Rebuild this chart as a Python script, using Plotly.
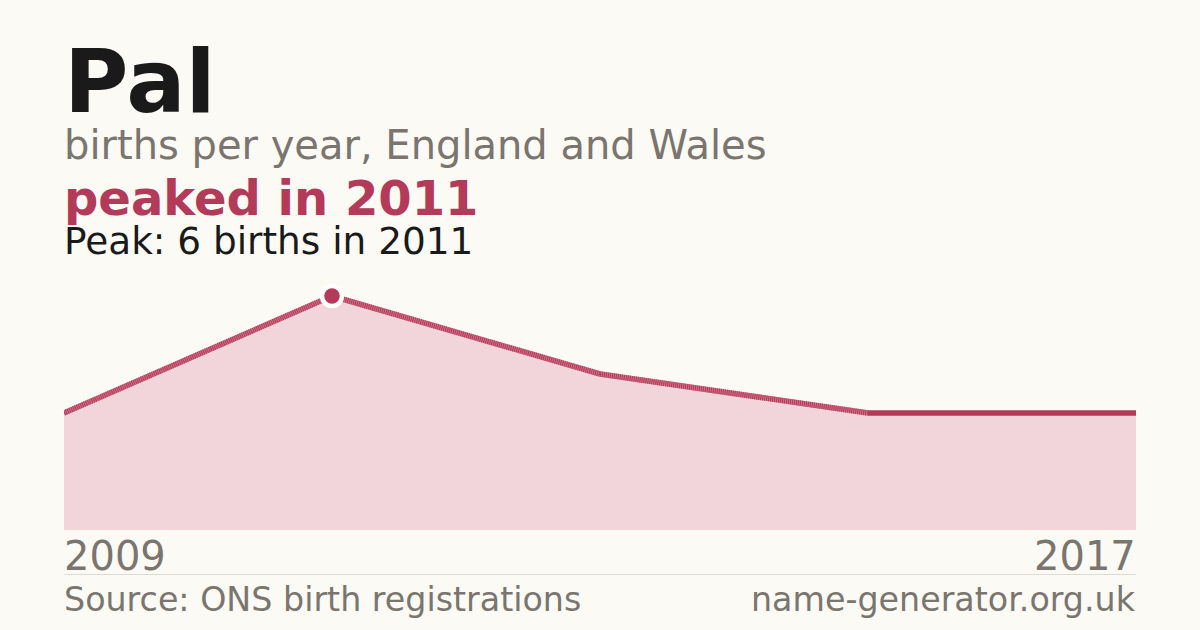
import plotly.graph_objects as go

# data: births per year (missing years had too few registrations to report)
years = [2009, 2011, 2013, 2015, 2016, 2017]
births = [3, 6, 4, 3, 3, 3]

name = "Pal"
subtitle = "births per year, England and Wales"
headline = "peaked in 2011"
source = "Source: ONS birth registrations"
site = "name-generator.org.uk"

BG = "#fbfaf5"
RED = "#b33a58"
FILL = "#f1d5da"
GREY = "#7a756e"
DARK = "#1a1a1a"
FONT = "DejaVu Sans"

# plot area pixels: x 64..1136, y 270..530
TOP, BOT = 270, 530
LEFT_NUDGE = -2 / 1072  # annotation padding


def py(p):
    # pixel row -> paper y
    return (BOT - p) / (BOT - TOP)


fig = go.Figure()

# area under the line
fig.add_trace(go.Scatter(
    x=years, y=births, mode="lines", fill="tozeroy",
    fillcolor=FILL, line=dict(width=0, color=FILL),
    hoverinfo="skip", showlegend=False,
))

# segments: dotted across gaps in the data, solid between consecutive years
for i in range(len(years) - 1):
    seg_x = years[i:i + 2]
    seg_y = births[i:i + 2]
    if seg_x[1] - seg_x[0] > 1:
        fig.add_trace(go.Scatter(
            x=seg_x, y=seg_y, mode="lines",
            line=dict(width=5.5, color="#cf6f88"),
            hoverinfo="skip", showlegend=False,
        ))
        fig.add_trace(go.Scatter(
            x=seg_x, y=seg_y, mode="lines",
            line=dict(width=5.5, color=RED, dash="1px,1px"),
            hoverinfo="skip", showlegend=False,
        ))
    else:
        fig.add_trace(go.Scatter(
            x=seg_x, y=seg_y, mode="lines",
            line=dict(width=5.5, color=RED),
            hoverinfo="skip", showlegend=False,
        ))

# peak marker
peak = max(births)
peak_year = years[births.index(peak)]
fig.add_trace(go.Scatter(
    x=[peak_year], y=[peak], mode="markers",
    marker=dict(size=20, color=RED, line=dict(width=4.5, color="white")),
    cliponaxis=False, showlegend=False,
))

ann = [
    dict(text="<b>" + name + "</b>", size=88, color=DARK, y=py(134.5)),
    dict(text=subtitle, size=40, color=GREY, y=py(170.5)),
    dict(text="<b>" + headline + "</b>", size=48, color=RED, y=py(228)),
    dict(text=f"Peak: {peak} births in {peak_year}", size=37.4, color=DARK, y=py(264.5)),
    dict(text=str(years[0]), size=40, color=GREY, y=py(580.5)),
    dict(text=source, size=33.3, color=GREY, y=py(621)),
]
annotations = []
for a in ann:
    annotations.append(dict(
        text=a["text"], x=LEFT_NUDGE, y=a["y"], xref="paper", yref="paper",
        xanchor="left", yanchor="bottom", showarrow=False,
        font=dict(family=FONT, size=a["size"], color=a["color"]),
    ))
annotations.append(dict(
    text=str(years[-1]), x=1 - LEFT_NUDGE, y=py(580.5), xref="paper", yref="paper",
    xanchor="right", yanchor="bottom", showarrow=False,
    font=dict(family=FONT, size=40, color=GREY),
))
annotations.append(dict(
    text=site, x=1 - LEFT_NUDGE, y=py(621), xref="paper", yref="paper",
    xanchor="right", yanchor="bottom", showarrow=False,
    font=dict(family=FONT, size=33.3, color=GREY),
))

fig.update_layout(
    width=1200, height=630,
    margin=dict(l=64, r=64, t=TOP, b=630 - BOT, pad=0),
    paper_bgcolor=BG, plot_bgcolor=BG,
    xaxis=dict(range=[years[0], years[-1]], visible=False, fixedrange=True),
    yaxis=dict(range=[0, peak * 10 / 9], visible=False, fixedrange=True),
    annotations=annotations,
    shapes=[dict(type="line", xref="paper", yref="paper", x0=0, x1=1,
                 y0=py(574.5), y1=py(574.5),
                 line=dict(color="#dedbd3", width=1))],
    showlegend=False,
)

fig.write_html(
    "out.html",
    config={"displayModeBar": False},
    post_script="document.body.style.margin='0';"
                "document.body.style.background='" + BG + "';",
)
